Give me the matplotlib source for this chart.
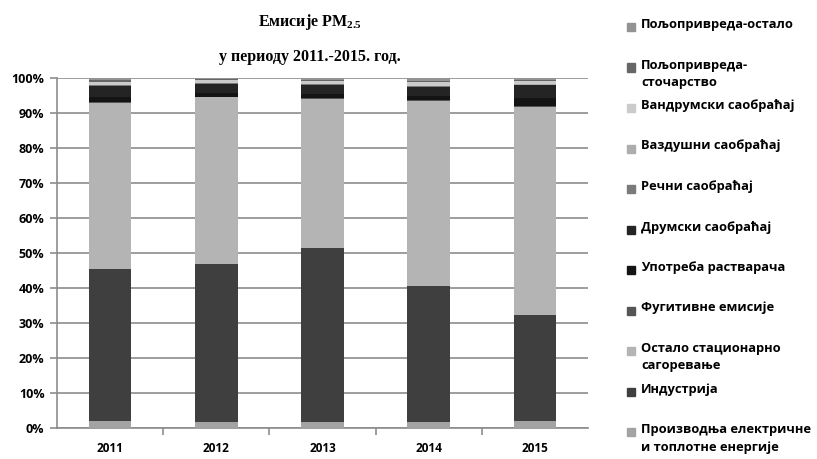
import numpy as np
import matplotlib
matplotlib.use("Agg")
import matplotlib.pyplot as plt
from matplotlib.patches import Rectangle
from matplotlib.ticker import FuncFormatter, MultipleLocator, FixedLocator

plt.rcParams["font.family"] = ["Open Sans", "DejaVu Sans"]
plt.rcParams["mathtext.fontset"] = "custom"
plt.rcParams["mathtext.rm"] = "Liberation Serif:bold"
plt.rcParams["mathtext.bf"] = "Liberation Serif:bold"

years = ["2011", "2012", "2013", "2014", "2015"]

# stacking order, bottom -> top (share of total, %)
sectors = [
    "Производња електричне\nи топлотне енергије",
    "Индустрија",
    "Остало стационарно\nсагоревање",
    "Фугитивне емисије",
    "Употреба растварача",
    "Друмски саобраћај",
    "Речни саобраћај",
    "Ваздушни саобраћај",
    "Вандрумски саобраћај",
    "Пољопривреда-\nсточарство",
    "Пољопривреда-остало",
]
proizvodnja = [2.0, 1.8, 1.8, 1.8, 2.0]
industrija  = [43.5, 45.0, 49.7, 38.7, 30.3]
stacionarno = [47.5, 47.7, 42.5, 53.0, 59.5]
fugitivne   = [0.2, 0.2, 0.2, 0.2, 0.2]
rastvaraci  = [1.4, 1.1, 1.1, 1.1, 2.3]
drumski     = [3.2, 2.6, 2.8, 2.7, 3.7]
recni       = [0.1, 0.1, 0.1, 0.1, 0.1]
vazdusni    = [0.1, 0.1, 0.1, 0.1, 0.1]
vandrumski  = [1.0, 0.7, 0.8, 1.1, 0.8]
stocarstvo  = [0.4, 0.3, 0.4, 0.4, 0.4]
polj_ostalo = [0.6, 0.4, 0.5, 0.8, 0.6]

series = [proizvodnja, industrija, stacionarno, fugitivne, rastvaraci, drumski,
          recni, vazdusni, vandrumski, stocarstvo, polj_ostalo]
colors = ["#a3a3a3", "#3f3f3f", "#b4b4b4", "#555555", "#141414", "#242424",
          "#7a7a7a", "#adadad", "#cbcbcb", "#666666", "#939393"]

W, H = 817, 459
fig = plt.figure(figsize=(W / 100, H / 100), dpi=100)
ax = fig.add_axes([57 / W, (H - 428) / H, (588 - 57) / W, (428 - 78) / H])

data = np.array(series, dtype=float)
data = data / data.sum(axis=0)
x = np.arange(len(years))
bottom = np.zeros(len(years))
for vals, c in zip(data, colors):
    ax.bar(x, vals, 0.4, bottom=bottom, color=c, linewidth=0, zorder=3)
    bottom += vals

ax.set_xlim(-0.5, len(years) - 0.5)
ax.set_ylim(0, 1)
ax.yaxis.set_major_locator(MultipleLocator(0.1))
ax.yaxis.set_major_formatter(FuncFormatter(lambda v, p: f"{v*100:.0f}%"))
ax.grid(axis="y", color="#8c8c8c", lw=1.2, zorder=0)
ax.set_xticks(x)
ax.set_xticklabels(years)
ax.xaxis.set_minor_locator(FixedLocator(np.arange(0.5, len(years) - 1, 1)))
ax.tick_params(axis="x", which="major", length=0, pad=10, labelsize=8.5)
ax.tick_params(axis="x", which="minor", length=5, color="#8c8c8c", width=1.2)
ax.tick_params(axis="y", length=5, color="#8c8c8c", width=1.2, labelsize=9, pad=4)
for lab in ax.get_xticklabels() + ax.get_yticklabels():
    lab.set_fontweight("bold")
for s in ["top", "right"]:
    ax.spines[s].set_visible(False)
for s in ["left", "bottom"]:
    ax.spines[s].set_color("#8c8c8c")
    ax.spines[s].set_linewidth(1.2)

# title
fig.text(310 / W, 1 - 22 / H, "Емисије PM$_{2.5}$", ha="center", va="center",
         family="Liberation Serif", fontweight="bold", fontsize=11.5)
fig.text(310 / W, 1 - 57 / H, "у периоду 2011.-2015. год.", ha="center", va="center",
         family="Liberation Serif", fontweight="bold", fontsize=11.5)

# legend, top entry = top of stack
y0, step = 27, 40.5
for i, (name, c) in enumerate(zip(sectors[::-1], colors[::-1])):
    yc = y0 + i * step
    fig.patches.append(Rectangle((627 / W, 1 - (yc + 4) / H), 8 / W, 8 / H,
                                 transform=fig.transFigure, color=c, figure=fig))
    fig.text(641 / W, 1 - (yc - 9) / H, name, ha="left", va="top",
             fontsize=9.3, fontweight="bold", linespacing=1.45)

fig.savefig("out.png", dpi=100)
